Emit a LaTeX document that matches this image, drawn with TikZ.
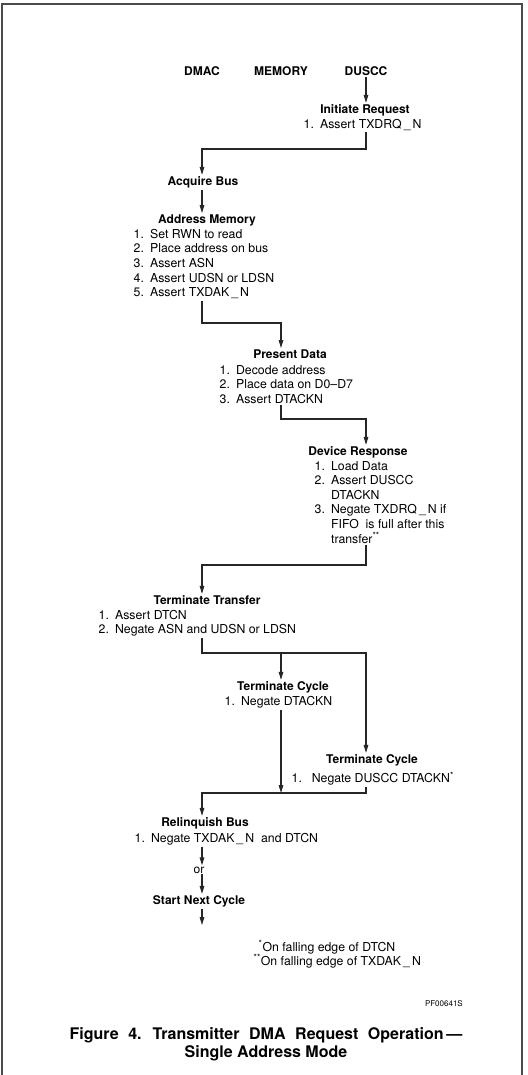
\documentclass[tikz,border=0pt]{standalone}
\usepackage{fontspec}
\setmainfont{TeX Gyre Heros}
\usetikzlibrary{arrows.meta}

\begin{document}
\begin{tikzpicture}[x=1pt, y=-1pt, line cap=butt, line join=miter,
  flow/.style={draw=black!85, line width=1.1pt, -{Triangle[length=8pt,width=4.6pt]}},
  ttl/.style={anchor=base, inner sep=1.5pt, font=\bfseries\fontsize{12}{14}\selectfont},
  lst/.style={anchor=north west, inner sep=1.5pt, align=left, font=\fontsize{12.3}{14.6}\selectfont},
  fnote/.style={anchor=base west, inner sep=1.5pt, font=\fontsize{12.3}{14}\selectfont}]

  %% ════ 外框（底边开口）════
  \draw[black!70, line width=1.3pt] (2,1075) -- (2,4) -- (522,4) -- (522,1075);

  %% ════ 三列表头 ════
  \node[ttl] (hdmac)  at (202,75.5) {DMAC};
  \node[ttl] (hmem)   at (281,75.5) {MEMORY};
  \node[ttl] (hduscc) at (366,75.5) {DUSCC};

  %% ════ 各步骤：标题 + 条目（条目框 = 首行基线 - 10.1）════
  \node[ttl] (tInit) at (365,113.5) {Initiate Request};
  \node[lst] (lInit) at (302,117.4) {1.\enspace Assert TXDRQ\,\_\,N};

  \node[ttl] (tAcq) at (203,185.5) {Acquire Bus};

  \node[ttl] (tAddr) at (207,223.5) {Address Memory};
  \node[lst] (lAddr) at (132,227.4) {1.\enspace Set RWN to read\\
    2.\enspace Place address on bus\\
    3.\enspace Assert ASN\\
    4.\enspace Assert UDSN or LDSN\\
    5.\enspace Assert TXDAK\,\_\,N};

  \node[ttl] (tPres) at (290,358.5) {Present Data};
  \node[lst] (lPres) at (218,363.4) {1.\enspace Decode address\\
    2.\enspace Place data on D0--D7\\
    3.\enspace Assert DTACKN};

  \node[ttl] (tDev) at (358,455.5) {Device Response};
  \node[lst] (lDev) at (313,459.4) {1.\enspace Load Data\\
    2.\enspace Assert DUSCC\\
    \hphantom{2.\enspace}DTACKN\\
    3.\enspace Negate TXDRQ\,\_\,N if\\
    \hphantom{3.\enspace}FIFO\ \ is full after this\\
    \hphantom{3.\enspace}transfer\textsuperscript{**}};

  \node[ttl] (tTerm) at (207,604.5) {Terminate Transfer};
  \node[lst] (lTerm) at (97,608.4) {1.\enspace Assert DTCN\\
    2.\enspace Negate ASN and UDSN or LDSN};

  \node[ttl] (tCyc1) at (283,690.5) {Terminate Cycle};
  \node[lst] (lCyc1) at (223,694.4) {1.\enspace Negate DTACKN};

  \node[ttl] (tCyc2) at (372,763.5) {Terminate Cycle};
  \node[lst] (lCyc2) at (290,770.4) {1.\hspace{0.8em}Negate DUSCC DTACKN\textsuperscript{*}};

  \node[ttl] (tRel) at (205,826.5) {Relinquish Bus};
  \node[lst] (lRel) at (133,831.4) {1.\enspace Negate TXDAK\,\_\,N\ \ and DTCN};

  \node[anchor=base, inner sep=1pt, font=\fontsize{12}{14}\selectfont] (tOr) at (199,873) {or};
  \node[ttl] (tNext) at (199,904.5) {Start Next Cycle};
  \coordinate (nxt) at (202,925);

  %% ════ 注释、图号、图题 ════
  \node[fnote] (fn1) at (257,951) {\textsuperscript{*}On falling edge of DTCN};
  \node[fnote] (fn2) at (252,965) {\textsuperscript{**}On falling edge of TXDAK\,\_\,N};
  \node[anchor=base east, inner sep=0pt, font=\fontsize{8}{9}\selectfont] (pfno) at (463,1006) {PF00641S};
  % 多行节点的 base 落在末行
  \node[anchor=base, inner sep=0pt, align=center,
        font=\bfseries\fontsize{16}{18}\selectfont] (cap) at (266,1057)
        {\spaceskip=0.6em\relax Figure 4. Transmitter DMA Request Operation\,---\\Single Address Mode};

  %% ════ 拐角汇合行 ════
  \coordinate (j1) at (366,149);
  \coordinate (j2) at (202,323);
  \coordinate (j3) at (281,419);
  \coordinate (j4) at (366,565);
  \coordinate (j5) at (202,653);
  \coordinate (j6) at (366,793);

  %% ════ 连线 ════
  \draw[flow] (hduscc) -- (tInit.north -| hduscc);
  \draw[flow] (lInit.south -| j1) -- (j1) -| (hdmac |- tAcq.north);
  \draw[flow] (hdmac |- tAcq.south) -- (hdmac |- tAddr.north);
  \draw[flow] (lAddr.south -| j2) -- (j2) -| (hmem |- tPres.north);
  \draw[flow] (lPres.south -| j3) -- (j3) -| (hduscc |- tDev.north);
  \draw[flow] (lDev.south -| j4) -- (j4) -| (hdmac |- tTerm.north);
  \draw[flow] (lTerm.south -| j5) -- (j5) -| (hduscc |- tCyc2.north);
  \draw[flow] (hmem |- j5) -- (hmem |- tCyc1.north);
  \draw[flow] (lCyc1.south -| hmem) -- (hmem |- j6);
  \draw[flow] (lCyc2.south -| j6) -- (j6) -| (hdmac |- tRel.north);
  \draw[flow] (lRel.south -| hdmac) -- (hdmac |- tOr.north);
  \draw[flow] (hdmac |- tOr.south) -- (hdmac |- tNext.north);
  \draw[flow] (hdmac |- tNext.south) -- (nxt);

  % 固定画布
  \pgfresetboundingbox
  \path[use as bounding box] (0,0) rectangle (527,1075);
\end{tikzpicture}
\end{document}
